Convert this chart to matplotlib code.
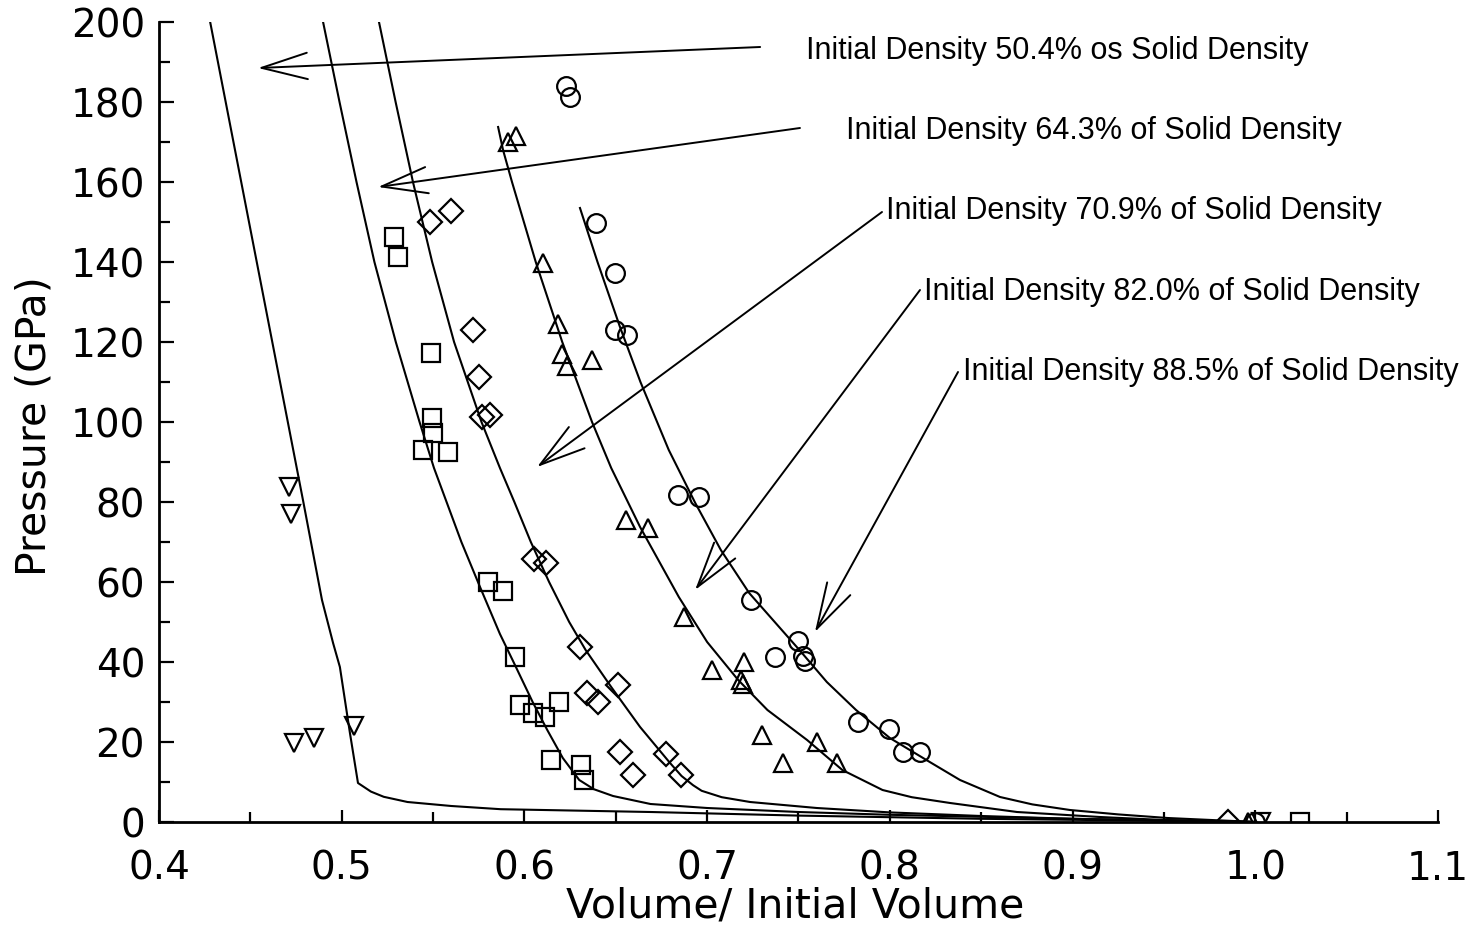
import matplotlib
matplotlib.use("Agg")
import matplotlib.pyplot as plt
from matplotlib.ticker import MultipleLocator, FormatStrFormatter

# ---- calculated Hugoniot curves: relative volume V/V0 and pressure (GPa) ----
curve_504_v = [0.428, 0.4365, 0.445, 0.4535, 0.462, 0.4705, 0.479, 0.4892, 0.4953, 0.499,
               0.5045, 0.5089, 0.516, 0.523, 0.536, 0.560, 0.587, 0.669, 0.75, 0.85, 0.95, 1.0]
curve_504_p = [200, 180, 160, 140, 120, 100, 80, 55.5, 44.7, 38.75,
               22.25, 9.75, 7.6, 6.3, 5.0, 4.0, 3.2, 2.5, 1.6, 0.8, 0.3, 0.0]

curve_643_v = [0.4898, 0.4988, 0.5081, 0.5179, 0.5296, 0.5426, 0.5505, 0.5655, 0.5757, 0.5866,
               0.5935, 0.6045, 0.6125, 0.621, 0.630, 0.638, 0.6485, 0.669, 0.700, 0.750,
               0.800, 0.900, 1.0]
curve_643_p = [200, 180, 160, 140, 120, 100, 88.5, 70, 58.75, 47,
               40.5, 30, 23, 16, 10.5, 8.2, 6.5, 4.5, 3.5, 2.5,
               1.8, 0.8, 0.0]

curve_709_v = [0.5204, 0.5295, 0.539, 0.5495, 0.5615, 0.5765, 0.5866, 0.5945, 0.6035, 0.6135,
               0.6245, 0.6335, 0.6475, 0.6633, 0.6797, 0.686, 0.6923, 0.697, 0.708, 0.7235,
               0.760, 0.800, 0.850, 0.900, 1.0]
curve_709_p = [200, 180, 160, 140, 120, 100, 88.5, 80, 70, 60,
               50, 43, 33.75, 23.75, 14.75, 11.5, 9.2, 7.8, 6.2, 5.0,
               3.5, 2.4, 1.5, 0.8, 0.0]

curve_820_v = [0.5856, 0.5883, 0.5932, 0.6062, 0.6207, 0.637, 0.6475, 0.6633, 0.6845, 0.700,
               0.717, 0.733, 0.7547, 0.774, 0.796, 0.812, 0.833, 0.8696, 0.915, 0.95, 1.0]
curve_820_p = [173.75, 168, 160, 140, 120, 100, 88.5, 73.75, 56.25, 45,
               35.5, 28, 20.5, 13, 8, 6.2, 4.75, 2.5, 1.25, 0.5, 0.0]

curve_885_v = [0.6304, 0.640, 0.6523, 0.6635, 0.679, 0.6935, 0.7075, 0.7230, 0.7505, 0.7655,
               0.7815, 0.800, 0.820, 0.8384, 0.8603, 0.878, 0.8986, 0.925, 0.952, 1.0]
curve_885_p = [153.5, 140, 123.75, 110, 93, 79.75, 68, 57.25, 43, 35,
               28, 21, 15.5, 10.5, 6.25, 4.4, 3.0, 1.9, 1.0, 0.0]

# ---- measured shock data ----
tri_down_v = [0.4712, 0.4723, 0.4739, 0.4848, 0.5067, 1.003]
tri_down_p = [83.75, 77.0, 19.75, 21.0, 24.0, 0.0]

square_v = [0.5286, 0.5308, 0.5489, 0.5494, 0.5500, 0.5445, 0.5582, 0.5800, 0.5883,
            0.5949, 0.5976, 0.6047, 0.6113, 0.6189, 0.6146, 0.6310, 0.6326, 1.0245]
square_p = [146.25, 141.25, 117.25, 101.0, 97.25, 93.0, 92.5, 60.0, 57.75,
            41.25, 29.25, 27.25, 26.25, 30.0, 15.5, 14.25, 10.5, 0.0]

diamond_v = [0.5483, 0.5598, 0.5719, 0.5752, 0.5768, 0.5812, 0.6053, 0.6118, 0.6304,
             0.6342, 0.6403, 0.6512, 0.6523, 0.6594, 0.6775, 0.6857, 0.985]
diamond_p = [150.0, 152.75, 123.0, 111.25, 101.25, 101.75, 65.75, 64.75, 43.75,
             32.25, 30.0, 34.25, 17.5, 11.75, 17.0, 11.75, 0.0]

triangle_v = [0.5910, 0.5954, 0.6102, 0.6184, 0.6206, 0.6233, 0.6370, 0.6556, 0.6677,
              0.6874, 0.7027, 0.7202, 0.7186, 0.7197, 0.7300, 0.7415, 0.7602, 0.7710, 0.996]
triangle_p = [170.0, 171.5, 139.75, 124.5, 117.0, 114.0, 115.5, 75.5, 73.5,
              51.25, 38.0, 40.0, 35.5, 34.5, 21.75, 14.75, 20.0, 14.75, 0.0]

circle_v = [0.6228, 0.6250, 0.6392, 0.6496, 0.6496, 0.6562, 0.6841, 0.6956, 0.7240,
            0.7372, 0.7498, 0.7525, 0.7536, 0.7826, 0.7996, 0.8072, 0.8165, 1.000]
circle_p = [184.0, 181.25, 149.75, 137.25, 123.0, 121.75, 81.75, 81.25, 55.5,
            41.25, 45.25, 41.5, 40.25, 25.0, 23.25, 17.5, 17.5, 0.0]

labels = [
    "Initial Density 50.4% os Solid Density",
    "Initial Density 64.3% of Solid Density",
    "Initial Density 70.9% of Solid Density",
    "Initial Density 82.0% of Solid Density",
    "Initial Density 88.5% of Solid Density",
]

# label anchor (text start), arrow tail and arrow tip, in data units
label_layout = [
    ((0.7541, 192.8), (0.7290, 193.75), (0.4542, 188.5)),
    ((0.7760, 172.8), (0.7508, 173.5), (0.5199, 158.75)),
    ((0.7979, 152.8), (0.7957, 152.5), (0.6069, 88.75)),
    ((0.8187, 132.6), (0.8165, 133.0), (0.6934, 58.0)),
    ((0.8401, 112.4), (0.8373, 112.5), (0.7590, 47.5)),
]

W, H, DPI = 1467, 933, 100
fig = plt.figure(figsize=(W / DPI, H / DPI), dpi=DPI)
ax = fig.add_axes([159 / W, 1 - 822 / H, (1438 - 159) / W, (822 - 22) / H])

line_kw = dict(color="black", lw=1.5)
for v, p in [(curve_504_v, curve_504_p), (curve_643_v, curve_643_p),
             (curve_709_v, curve_709_p), (curve_820_v, curve_820_p),
             (curve_885_v, curve_885_p)]:
    ax.plot(v, p, **line_kw)

mk_kw = dict(ls="none", mfc="none", mec="black", mew=1.6)
ax.plot(tri_down_v, tri_down_p, marker="v", ms=13, **mk_kw)
ax.plot(square_v, square_p, marker="s", ms=13, **mk_kw)
ax.plot(diamond_v, diamond_p, marker="D", ms=12.5, **mk_kw)
ax.plot(triangle_v, triangle_p, marker="^", ms=13, **mk_kw)
ax.plot(circle_v, circle_p, marker="o", ms=13.5, **mk_kw)

for text, (anchor, tail, tip) in zip(labels, label_layout):
    ax.text(anchor[0], anchor[1], text, ha="left", va="center",
            fontsize=22, family="Liberation Sans", clip_on=False)
    ax.annotate("", xy=tip, xytext=tail,
                arrowprops=dict(arrowstyle="->,head_length=3.3,head_width=0.95",
                                mutation_scale=10, lw=1.4, color="black",
                                shrinkA=0, shrinkB=0))

ax.set_xlim(0.4, 1.1)
ax.set_ylim(0, 200)
for side in ("top", "right"):
    ax.spines[side].set_visible(False)
for side in ("left", "bottom"):
    ax.spines[side].set_linewidth(2.0)

ax.xaxis.set_major_locator(MultipleLocator(0.1))
ax.xaxis.set_minor_locator(MultipleLocator(0.05))
ax.xaxis.set_major_formatter(FormatStrFormatter("%.1f"))
ax.yaxis.set_major_locator(MultipleLocator(20))
ax.yaxis.set_minor_locator(MultipleLocator(10))

ax.tick_params(axis="both", which="both", direction="in", width=1.6, labelsize=28)
ax.tick_params(axis="x", which="major", length=9, pad=20)
ax.tick_params(axis="x", which="minor", length=7)
ax.tick_params(axis="y", which="major", length=11, pad=10)
ax.tick_params(axis="y", which="minor", length=8)

ax.set_xlabel("Volume/ Initial Volume", fontsize=29.5, va="center")
ax.xaxis.set_label_coords(0.497, -0.106)
ax.set_ylabel("Pressure (GPa)", fontsize=29.5, va="center")
ax.yaxis.set_label_coords(-0.097, 0.495)

fig.savefig("out.png", dpi=DPI, facecolor="white")
